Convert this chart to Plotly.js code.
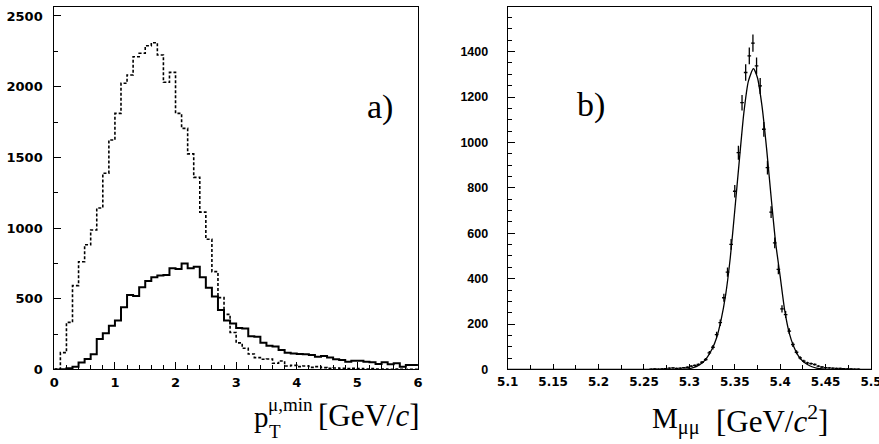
<!DOCTYPE html>
<html>
<head>
<meta charset="utf-8">
<script src="https://cdn.plot.ly/plotly-3.0.1.min.js"></script>
<style>
  html, body { margin: 0; padding: 0; background: #fff; }
  #chart { width: 879px; height: 444px; }
</style>
</head>
<body>
<div id="chart"></div>
<script>
CHART = document.getElementById('chart');

// panel a): pT(mu,min) histograms, 60 bins of 0.1 GeV/c from 0 to 6
var ptBinWidth = 0.1;
var ptAll = [3, 119, 333, 593, 762, 882, 987, 1142, 1388, 1623,
             1811, 2024, 2083, 2212, 2236, 2290, 2311, 2224, 2031, 2101,
             1811, 1705, 1525, 1359, 1113, 921, 692, 508, 390, 262,
             188, 150, 110, 84, 72, 74, 44, 60, 25, 29,
             20, 25, 15, 20, 13, 8, 11, 8, 6, 8,
             6, 4, 6, 4, 4, 2, 4, 2, 1, 1];
var ptSel = [0, 2, 8, 20, 50, 74, 107, 216, 256, 310,
             346, 440, 527, 520, 581, 626, 652, 664, 668, 716,
             711, 749, 716, 727, 652, 579, 516, 421, 346, 325,
             294, 290, 236, 232, 190, 168, 163, 138, 119, 114,
             110, 107, 103, 91, 95, 84, 72, 67, 55, 62,
             62, 55, 51, 39, 51, 37, 44, 20, 32, 32];

// panel b): M(mu mu) data points (bin centres, 4 MeV bins) and fit curve
var massCentres = [5.258, 5.262, 5.266, 5.270, 5.274, 5.278, 5.282, 5.286, 5.290, 5.294,
                   5.298, 5.302, 5.306, 5.310, 5.314, 5.318, 5.322, 5.326, 5.330, 5.334,
                   5.338, 5.342, 5.346, 5.350, 5.354, 5.358, 5.362, 5.366, 5.370, 5.374,
                   5.378, 5.382, 5.386, 5.390, 5.394, 5.398, 5.402, 5.406, 5.410, 5.414,
                   5.418, 5.422, 5.426, 5.430, 5.434, 5.438, 5.442, 5.446, 5.450, 5.454,
                   5.458, 5.462, 5.466, 5.470, 5.474, 5.478, 5.482, 5.486];
var massCounts = [2, 3, 2, 3, 4, 6, 7, 5, 6, 8,
                  10, 15, 18, 22, 32, 44, 73, 98, 154, 206,
                  316, 429, 551, 785, 955, 1175, 1308, 1381, 1437, 1337,
                  1249, 1058, 889, 693, 558, 441, 267, 242, 169, 110,
                  76, 51, 37, 29, 26, 22, 15, 11, 8, 7,
                  6, 5, 5, 4, 3, 3, 2, 2];
var fitMass = [5.10, 5.25, 5.28, 5.29, 5.30, 5.305, 5.31, 5.315, 5.32, 5.325,
               5.33, 5.335, 5.34, 5.345, 5.35, 5.355, 5.36, 5.365, 5.3705, 5.375,
               5.38, 5.385, 5.39, 5.395, 5.40, 5.405, 5.41, 5.415, 5.42, 5.425,
               5.43, 5.435, 5.44, 5.45, 5.47, 5.50];
var fitValue = [0, 0, 0.5, 1, 4, 9, 18, 32, 56, 90,
                140, 220, 330, 490, 700, 920, 1130, 1270, 1325, 1285,
                1160, 975, 760, 558, 410, 260, 160, 100, 60, 36,
                22, 12, 6, 2, 0, 0];

// step outline: left bin edges plus the closing edge
function stepEdges(values, width)
{
    var x = [];
    for (var i = 0; i <= values.length; i++) { x.push(i * width); }
    return x;
}
function stepValues(values)
{
    return values.concat([values[values.length - 1]]);
}

var traceAll = {x: stepEdges(ptAll, ptBinWidth),
                y: stepValues(ptAll),
                type: 'scatter', mode: 'lines',
                line: {shape: 'hv', color: '#000', width: 1.6, dash: '3px,2px'},
                xaxis: 'x', yaxis: 'y'};

var traceSel = {x: stepEdges(ptSel, ptBinWidth),
                y: stepValues(ptSel),
                type: 'scatter', mode: 'lines',
                line: {shape: 'hv', color: '#000', width: 2},
                xaxis: 'x', yaxis: 'y'};

var traceFit = {x: fitMass, y: fitValue,
                type: 'scatter', mode: 'lines',
                line: {shape: 'spline', smoothing: 0.6, color: '#000', width: 1.3},
                xaxis: 'x2', yaxis: 'y2'};

var traceMass = {x: massCentres, y: massCounts,
                 type: 'scatter', mode: 'markers',
                 marker: {size: 1, color: '#000'},
                 error_y: {type: 'sqrt', color: '#000', thickness: 1.3, width: 0},
                 error_x: {type: 'constant', value: 0.002, color: '#000', thickness: 1.3, width: 0},
                 xaxis: 'x2', yaxis: 'y2'};

var wideFont = {family: 'DejaVu Sans, sans-serif', size: 13, color: '#000', weight: 700};
var narrowFont = {family: 'Liberation Sans, Arial, sans-serif', size: 12.5, color: '#000', weight: 700};
var midFont = {family: 'DejaVu Sans, sans-serif', size: 12, color: '#000', weight: 700};
var serifFamily = 'Liberation Serif, Times New Roman, serif';

function axis(extra)
{
    var base = {showgrid: false, zeroline: false, showline: true, mirror: true,
                linecolor: '#000', linewidth: 1, ticks: 'inside', ticklen: 7,
                tickwidth: 1, tickcolor: '#000',
                tickprefix: '<b>', ticksuffix: '</b>',
                fixedrange: true};
    for (var k in extra) { base[k] = extra[k]; }
    return base;
}

function minor(step)
{
    return {dtick: step, ticks: 'inside', ticklen: 4, tickwidth: 1, tickcolor: '#000'};
}

function label(text, px, py, xanchor, size)
{
    return {text: text, xref: 'paper', yref: 'paper', x: px / 879, y: py / 444,
            xanchor: xanchor, yanchor: 'bottom', showarrow: false,
            font: {family: serifFamily, size: size, color: '#000'}};
}

var yDomain = [0.1678, 0.985];

var layout = {width: 879, height: 444,
              margin: {l: 0, r: 0, t: 0, b: 0},
              paper_bgcolor: '#fff', plot_bgcolor: '#fff',
              showlegend: false,
              xaxis: axis({domain: [0.0618, 0.4755], range: [0, 6], tick0: 0, dtick: 1,
                           minor: minor(0.2), tickfont: wideFont,
                           anchor: 'y', ticklabelstandoff: 1}),
              yaxis: axis({domain: yDomain, range: [0, 2566], tick0: 0, dtick: 500,
                           minor: minor(250), tickfont: wideFont,
                           anchor: 'x', ticklabelstandoff: 8}),
              xaxis2: axis({domain: [0.5776, 0.9909], range: [5.1, 5.5], tick0: 5.1, dtick: 0.05,
                            minor: minor(0.025), tickfont: midFont, ticklen: 5,
                            anchor: 'y2', ticklabelstandoff: 1, ticklabeloverflow: 'allow'}),
              yaxis2: axis({domain: yDomain, range: [0, 1598], tick0: 0, dtick: 200,
                            minor: minor(50), tickfont: narrowFont,
                            anchor: 'x2', ticklabelstandoff: 16}),
              annotations: [
                  {text: 'a)', xref: 'paper', yref: 'paper', x: 0.432, y: 0.806,
                   showarrow: false, font: {family: serifFamily, size: 34, color: '#000'}},
                  {text: 'b)', xref: 'paper', yref: 'paper', x: 0.6906, y: 0.811,
                   showarrow: false, font: {family: serifFamily, size: 34, color: '#000'}},
                  // p_T^{mu,min} [GeV/c], sub- and superscript stacked
                  label('p', 252, 9, 'left', 29),
                  label('μ,min', 266, 27, 'left', 19),
                  label('T', 267, 0, 'left', 19),
                  label('[GeV/<i>c</i>]', 316, 9, 'left', 31),
                  // M_{mu mu} [GeV/c^2]
                  label('M<sub>μμ</sub>', 650, 3, 'left', 29),
                  label('[GeV/<i>c</i><sup>2</sup>]', 714, 3, 'left', 31)
              ]
             };

var config = {displayModeBar: false, staticPlot: true};

Plotly.newPlot(CHART, [traceAll, traceSel, traceFit, traceMass], layout, config);
</script>
</body>
</html>
